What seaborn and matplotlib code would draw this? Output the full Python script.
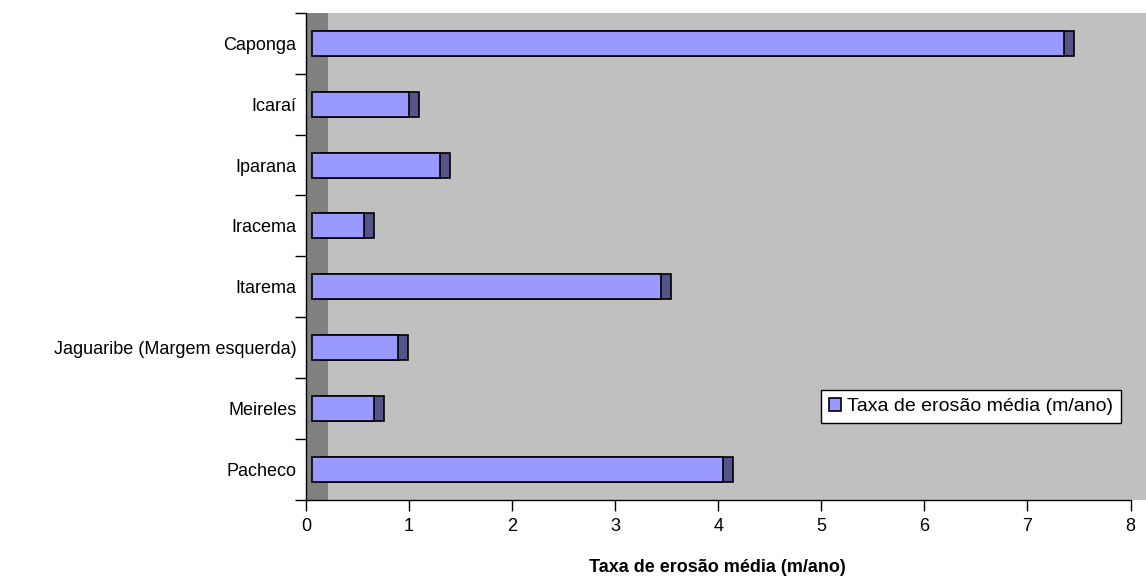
import matplotlib
matplotlib.use('Agg')
import matplotlib.pyplot as plt
import matplotlib.transforms as mtrans
from matplotlib.ticker import FixedLocator
import seaborn as sns
import pandas as pd

# data
praias = ['Caponga', 'Icaraí', 'Iparana', 'Iracema', 'Itarema',
          'Jaguaribe (Margem esquerda)', 'Meireles', 'Pacheco']
taxa = [7.30, 0.94, 1.24, 0.50, 3.39, 0.83, 0.60, 3.99]
serie = 'Taxa de erosão média (m/ano)'
x_ticks = [0, 1, 2, 3, 4, 5, 6, 7, 8]

df = pd.DataFrame({'praia': praias, 'taxa': taxa})

sns.set_theme(style='white')
plt.rcParams['font.family'] = ['Liberation Sans', 'DejaVu Sans']
plt.rcParams['text.color'] = 'black'
plt.rcParams['xtick.color'] = 'black'
plt.rcParams['ytick.color'] = 'black'
plt.rcParams['axes.labelcolor'] = 'black'

FS = 13

fig = plt.figure(figsize=(11.46, 5.82), dpi=100)
ax = fig.add_axes([0.267, 0.141, 0.733, 0.837])
ax.set_facecolor('#c0c0c0')

# depth face (dark), drawn behind and shifted right
sns.barplot(data=df, x='taxa', y='praia', orient='h', color='#55558a',
            saturation=1, width=0.41, edgecolor='black', linewidth=1.2, ax=ax)
back_patches = list(ax.patches)
back = mtrans.offset_copy(ax.transData, fig=fig, x=16, y=0, units='dots')
for p in back_patches:
    p.set_transform(back)
    p.set_zorder(2)

# front face (light)
sns.barplot(data=df, x='taxa', y='praia', orient='h', color='#9999ff',
            saturation=1, width=0.41, edgecolor='black', linewidth=1.2,
            label=serie, ax=ax)
front = mtrans.offset_copy(ax.transData, fig=fig, x=6, y=0, units='dots')
for p in ax.patches:
    if p not in back_patches:
        p.set_transform(front)
        p.set_zorder(3)

# side wall of the 3D look
ax.axvspan(0, 0.21, color='#808080', zorder=0.5, lw=0)

ax.set_xlim(0, 8.15)
ax.set_ylim(len(praias) - 0.5, -0.5)
ax.set_xticks(x_ticks)
ax.set_xticklabels([str(t) for t in x_ticks], fontsize=FS)
ax.tick_params(axis='x', direction='out', length=8, width=1, color='black',
               bottom=True, pad=5)
ax.tick_params(axis='y', which='major', length=0, pad=7, labelsize=FS)
ax.yaxis.set_minor_locator(FixedLocator([i - 0.5 for i in range(len(praias) + 1)]))
ax.tick_params(axis='y', which='minor', direction='out', length=8, width=1,
               color='black', left=True)

for s in ['top', 'right']:
    ax.spines[s].set_visible(False)
ax.spines['left'].set_color('black')
ax.spines['bottom'].set_color('black')
ax.spines['bottom'].set_bounds(0, 8)
ax.spines['left'].set_linewidth(1)
ax.spines['bottom'].set_linewidth(1)

ax.set_ylabel('')
ax.set_xlabel('Taxa de erosão média (m/ano)', fontsize=FS, fontweight='bold')
ax.xaxis.set_label_coords(0.49, -0.122)

leg = ax.legend(loc='upper right', bbox_to_anchor=(0.970, 0.226), fontsize=14,
                frameon=True, fancybox=False, framealpha=1, edgecolor='black',
                handlelength=0.65, handleheight=0.65, handletextpad=0.3,
                borderpad=0.4, borderaxespad=0)
leg.get_frame().set_linewidth(1)

plt.savefig('out.png', dpi=100)
